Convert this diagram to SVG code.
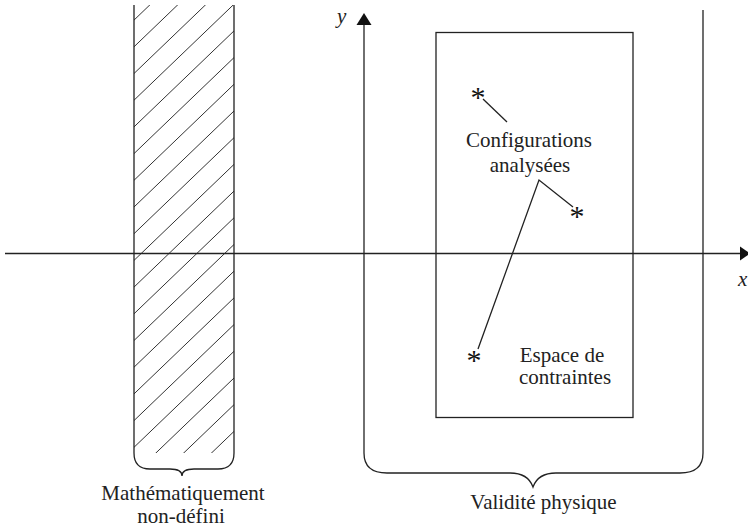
<svg xmlns="http://www.w3.org/2000/svg" width="748" height="531" viewBox="0 0 748 531">
<style>
.ln{stroke:#222;stroke-width:1.3;fill:none}
.ht{stroke:#333;stroke-width:1;fill:none}
text{font-family:'Liberation Serif','Times New Roman','DejaVu Serif',serif;fill:#222}
.t{font-size:21px;text-anchor:middle}
.it{font-size:21px;font-style:italic}
.ast{font-size:30px;text-anchor:middle;fill:#111}
</style>
<defs>
<clipPath id="hc"><rect x="134" y="5" width="100" height="448"/></clipPath>
</defs>
<rect width="748" height="531" fill="#fff"/>
<g id="zone-non-defini">
<g clip-path="url(#hc)" class="ht">
<path d="M134,-33.3 L234,-129.3 M134,-6.6 L234,-102.6 M134,20.1 L234,-75.9 M134,46.8 L234,-49.2 M134,73.5 L234,-22.5 M134,100.2 L234,4.2 M134,126.9 L234,30.9 M134,153.6 L234,57.6 M134,180.3 L234,84.3 M134,207 L234,111 M134,233.7 L234,137.7 M134,260.4 L234,164.4 M134,287.1 L234,191.1 M134,313.8 L234,217.8 M134,340.5 L234,244.5 M134,367.2 L234,271.2 M134,393.9 L234,297.9 M134,420.6 L234,324.6 M134,447.3 L234,351.3 M134,474 L234,378 M134,500.7 L234,404.7 M134,527.4 L234,431.4 M134,554.1 L234,458.1"/>
</g>
<path class="ln" d="M134,5 V453 Q134,469 150,469 H170 Q182,469 182,476 Q182,469 194,469 H218 Q234,469 234,453 V5"/>
<text class="t" x="183" y="500" font-family="Liberation Serif, serif">Mathématiquement</text>
<text class="t" x="181" y="523" font-family="Liberation Serif, serif">non-défini</text>
</g>
<g id="espace-contraintes">
<rect class="ln" x="436" y="32.5" width="197" height="385"/>
<text class="t" x="562" y="362" font-family="Liberation Serif, serif">Espace de</text>
<text class="t" x="565" y="384" font-family="Liberation Serif, serif">contraintes</text>
</g>
<g id="validite">
<path class="ln" d="M703,10 V453 Q703,473 680,473 H556 Q538,473 533,487 Q528,473 510,473 H387 Q364,473 364,453"/>
<text class="t" x="543.5" y="509" font-family="Liberation Serif, serif">Validité physique</text>
</g>
<g id="axes">
<path class="ln" d="M5,253.5 H742"/>
<path fill="#111" d="M740,246.5 L750,253.5 L740,260.5 Z"/>
<path class="ln" d="M364,453 V22"/>
<path fill="#111" d="M356.5,25 L364,13 L371.5,25 Z"/>
<text class="it" x="337" y="23" font-family="Liberation Serif, serif">y</text>
<text class="it" x="738" y="286" font-family="Liberation Serif, serif">x</text>
</g>
<g id="configurations">
<text class="ast" x="478" y="107" font-family="Liberation Serif, serif">*</text>
<text class="ast" x="577" y="226" font-family="Liberation Serif, serif">*</text>
<text class="ast" x="474" y="370" font-family="Liberation Serif, serif">*</text>
<text class="t" x="529" y="147" font-family="Liberation Serif, serif">Configurations</text>
<text class="t" x="530" y="172" font-family="Liberation Serif, serif">analysées</text>
</g>
<g id="connectors">
<path class="ln" d="M483,99 L507,122"/>
<path class="ln" d="M573,207 L539,180 L478,349"/>
</g>
</svg>
